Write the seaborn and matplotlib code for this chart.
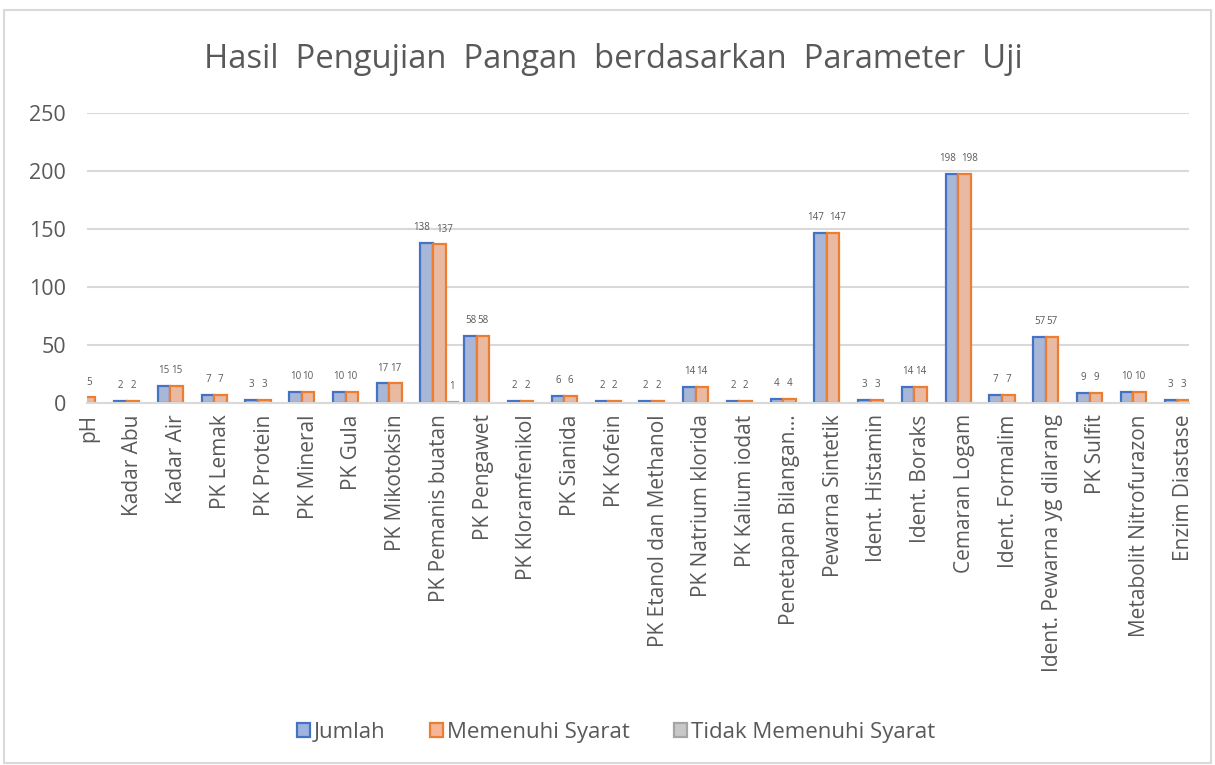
import numpy as np
import pandas as pd
import seaborn as sns
import matplotlib.pyplot as plt
from matplotlib.patches import Rectangle, Patch

# Data
parameter = [
    "pH", "Kadar Abu", "Kadar Air", "PK Lemak", "PK Protein", "PK Mineral",
    "PK Gula", "PK Mikotoksin", "PK Pemanis buatan", "PK Pengawet",
    "PK Kloramfenikol", "PK Sianida", "PK Kofein", "PK Etanol dan Methanol",
    "PK Natrium klorida", "PK Kalium iodat", "Penetapan Bilangan…",
    "Pewarna Sintetik", "Ident. Histamin", "Ident. Boraks", "Cemaran Logam",
    "Ident. Formalim", "Ident. Pewarna yg dilarang", "PK Sulfit",
    "Metabolit Nitrofurazon", "Enzim Diastase",
]
jumlah = [np.nan, 2, 15, 7, 3, 10, 10, 17, 138, 58, 2, 6, 2, 2, 14, 2, 4,
          147, 3, 14, 198, 7, 57, 9, 10, 3]
memenuhi = [5, 2, 15, 7, 3, 10, 10, 17, 137, 58, 2, 6, 2, 2, 14, 2, 4,
            147, 3, 14, 198, 7, 57, 9, 10, 3]
tidak = [np.nan] * 8 + [1] + [np.nan] * 17

series = ["Jumlah", "Memenuhi Syarat", "Tidak Memenuhi Syarat"]
fills = ["#A0B3E0", "#F5B596", "#C8C8C8"]
edges = ["#4472C4", "#ED7D31", "#A5A5A5"]

df = pd.DataFrame({
    "Parameter": parameter * 3,
    "Seri": np.repeat(series, len(parameter)),
    "Nilai": jumlah + memenuhi + tidak,
}).dropna()

sns.set_theme(style="white")
plt.rcParams["font.family"] = ["Open Sans", "DejaVu Sans"]
text_color = "#595959"

fig = plt.figure(figsize=(12.15, 7.65), dpi=100)
ax = fig.add_axes([0.0716, 0.473, 0.9074, 0.379])

sns.barplot(data=df, x="Parameter", y="Nilai", hue="Seri", order=parameter,
            hue_order=series, palette=fills, width=0.86, ax=ax,
            errorbar=None, legend=False)

# three-digit labels get nudged apart so they don't collide
nudge = [-3.5, 3.5, 0]
for cont, ec, dx in zip(ax.containers, edges, nudge):
    for bar in cont:
        bar.set_edgecolor(ec)
        bar.set_linewidth(1.6)
    labels = ax.bar_label(cont, fontsize=7, color=text_color, padding=7)
    for lab, bar in zip(labels, cont):
        if bar.get_height() >= 100:
            lab.xyann = (dx, 7)

ax.set_ylim(0, 250)
ax.set_yticks(range(0, 251, 50))
ax.set_xlim(-0.05, len(parameter) - 1 + 0.14)
ax.yaxis.grid(True, color="#D9D9D9", linewidth=1.5)
ax.set_axisbelow(True)
for side in ["top", "right", "left"]:
    ax.spines[side].set_visible(False)
ax.spines["bottom"].set_color("#D9D9D9")
ax.spines["bottom"].set_linewidth(1.5)
ax.tick_params(axis="x", labelrotation=90, labelsize=15, colors=text_color,
               length=0, pad=8)
ax.tick_params(axis="y", labelsize=15.5, colors=text_color, length=0, pad=15)
ax.set_xlabel("")
ax.set_ylabel("")

fig.text(0.505, 0.922, "Hasil  Pengujian  Pangan  berdasarkan  Parameter  Uji",
         ha="center", va="center", fontsize=23.6, color=text_color)

handles = [Patch(facecolor=f, edgecolor=e, linewidth=1.6) for f, e in zip(fills, edges)]
fig.legend(handles, series, loc="center", bbox_to_anchor=(0.507, 0.043),
           ncol=3, frameon=False, fontsize=16, labelcolor=text_color,
           handlelength=0.6, handleheight=0.6, handletextpad=0.15,
           columnspacing=2.0)

fig.add_artist(Rectangle((0.003, 0.003), 0.994, 0.984, transform=fig.transFigure,
                         fill=False, edgecolor="#D9D9D9", linewidth=1.5))

fig.savefig("out.png", dpi=100)
